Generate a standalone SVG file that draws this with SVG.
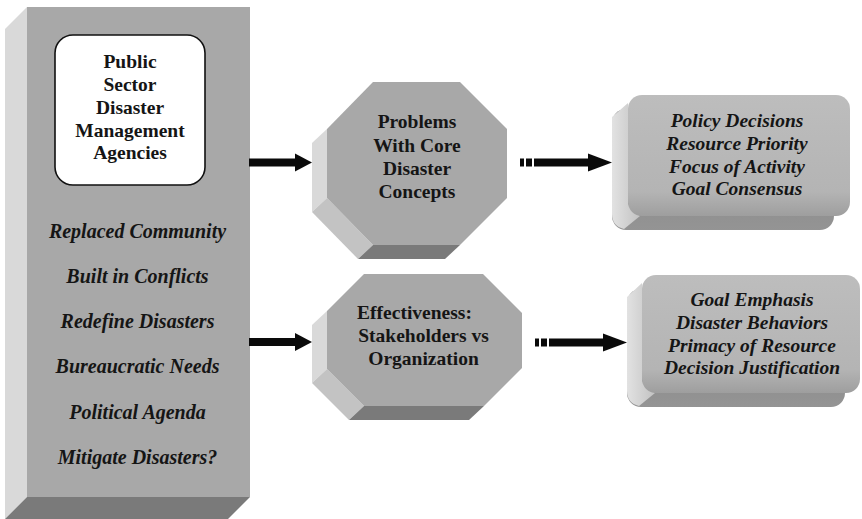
<svg xmlns="http://www.w3.org/2000/svg" width="862" height="519" viewBox="0 0 862 519">
  <defs>
    <linearGradient id="boxFront" x1="0" y1="0" x2="0" y2="1">
      <stop offset="0" stop-color="#bdbdbd"/>
      <stop offset="0.8" stop-color="#b4b4b4"/>
      <stop offset="1" stop-color="#9e9e9e"/>
    </linearGradient>
    <linearGradient id="boxSide" x1="0" y1="0" x2="1" y2="0">
      <stop offset="0" stop-color="#e2e2e2"/>
      <stop offset="1" stop-color="#c2c2c2"/>
    </linearGradient>
    <linearGradient id="boxBottom" x1="0" y1="0" x2="0" y2="1">
      <stop offset="0" stop-color="#7e7e7e"/>
      <stop offset="1" stop-color="#949494"/>
    </linearGradient>
    <style>
      .title { font-family: "Liberation Serif", "Times New Roman", serif; font-weight: bold; font-size: 19.5px; fill: #151515; text-anchor: middle; }
      .item { font-family: "Liberation Serif", "Times New Roman", serif; font-weight: bold; font-style: italic; font-size: 19.5px; fill: #151515; text-anchor: middle; }
      .list { font-size: 20px; }
      .front { fill: #a8a8a8; }
      .side { fill: #d9d9d9; }
      .chamfer { fill: #c3c3c3; }
      .bottom { fill: #7a7a7a; }
      .arrow { fill: #0a0a0a; }
    </style>
  </defs>

  <rect width="862" height="519" fill="#ffffff"/>

  <!-- Left column: public sector agencies -->
  <g id="agencies-panel">
    <polygon class="side" points="27,7 5,29 5,519 27,497"/>
    <polygon class="bottom" points="27,497 250,497 228,519 5,519"/>
    <rect class="front" x="27" y="7" width="223" height="490"/>
    <rect x="55" y="35" width="150" height="150" rx="18" fill="#ffffff" stroke="#111111" stroke-width="1.6"/>
    <text class="title" x="130" y="68">Public</text>
    <text class="title" x="130" y="91">Sector</text>
    <text class="title" x="130" y="114">Disaster</text>
    <text class="title" x="130" y="136.5">Management</text>
    <text class="title" x="130" y="159">Agencies</text>
    <text class="item list" x="137.5" y="237.5">Replaced Community</text>
    <text class="item list" x="137.5" y="283">Built in Conflicts</text>
    <text class="item list" x="137.5" y="328">Redefine Disasters</text>
    <text class="item list" x="137.5" y="373">Bureaucratic Needs</text>
    <text class="item list" x="137.5" y="418.5">Political Agenda</text>
    <text class="item list" x="137.5" y="464">Mitigate Disasters?</text>
  </g>

  <!-- Octagon: core concept problems -->
  <g id="core-concepts">
    <polygon class="side" points="327,129 327,198 312,212 312,143"/>
    <polygon class="chamfer" points="327,198 373,245 358,259 312,212"/>
    <polygon class="bottom" points="373,245 460,245 445,259 358,259"/>
    <polygon class="front" points="373,82 460,82 507,129 507,198 460,245 373,245 327,198 327,129"/>
    <text class="title" x="417" y="128">Problems</text>
    <text class="title" x="417" y="151.5">With Core</text>
    <text class="title" x="417" y="175">Disaster</text>
    <text class="title" x="417" y="198">Concepts</text>
  </g>

  <!-- Octagon: effectiveness -->
  <g id="effectiveness">
    <polygon class="side" points="327,311 327,369 312,383 312,325"/>
    <polygon class="chamfer" points="327,369 364,406 349,420 312,383"/>
    <polygon class="bottom" points="364,406 484,406 469,420 349,420"/>
    <polygon class="front" points="364,274 483,274 522,313 522,368 484,406 364,406 327,369 327,311"/>
    <text class="title" x="414.5" y="319">Effectiveness:</text>
    <text class="title" x="423.5" y="342">Stakeholders vs</text>
    <text class="title" x="423.5" y="364.5">Organization</text>
  </g>

  <!-- Box: policy outcomes -->
  <g id="policy-outcomes">
    <rect x="612" y="109" width="222" height="121" rx="14" fill="url(#boxBottom)"/>
    <path d="M628,103 L612,117 L612,214 Q612,226 624,229 L640,216 L628,204 Z" fill="url(#boxSide)"/>
    <rect x="628" y="95" width="222" height="121" rx="14" fill="url(#boxFront)"/>
    <text class="item" x="737" y="127">Policy Decisions</text>
    <text class="item" x="737" y="150">Resource Priority</text>
    <text class="item" x="737" y="172.5">Focus of Activity</text>
    <text class="item" x="737" y="195">Goal Consensus</text>
  </g>

  <!-- Box: organizational outcomes -->
  <g id="organization-outcomes">
    <rect x="627" y="289" width="218" height="118" rx="14" fill="url(#boxBottom)"/>
    <path d="M642,283 L627,297 L627,391 Q627,403 639,406 L655,393 L642,381 Z" fill="url(#boxSide)"/>
    <rect x="642" y="275" width="218" height="118" rx="14" fill="url(#boxFront)"/>
    <text class="item" x="752" y="306">Goal Emphasis</text>
    <text class="item" x="752" y="329">Disaster Behaviors</text>
    <text class="item" x="752" y="352">Primacy of Resource</text>
    <text class="item" x="752" y="374">Decision Justification</text>
  </g>

  <!-- Connectors -->
  <g id="connectors">
    <g class="arrow">
      <rect x="249" y="158.5" width="47" height="8"/>
      <polygon points="295,153.5 312,162.5 295,171.5"/>
    </g>
    <g class="arrow">
      <rect x="249" y="338" width="47" height="8"/>
      <polygon points="295,333 312,342 295,351"/>
    </g>
    <g class="arrow">
      <rect x="520" y="158.5" width="4" height="8"/>
      <rect x="526" y="158.5" width="6" height="8"/>
      <rect x="534" y="158.5" width="56" height="8"/>
      <polygon points="588,153.5 612,162.5 588,171.5"/>
    </g>
    <g class="arrow">
      <rect x="535" y="338.5" width="4" height="8"/>
      <rect x="541" y="338.5" width="6" height="8"/>
      <rect x="549" y="338.5" width="56" height="8"/>
      <polygon points="603,333.5 627,342.5 603,351.5"/>
    </g>
  </g>
</svg>
